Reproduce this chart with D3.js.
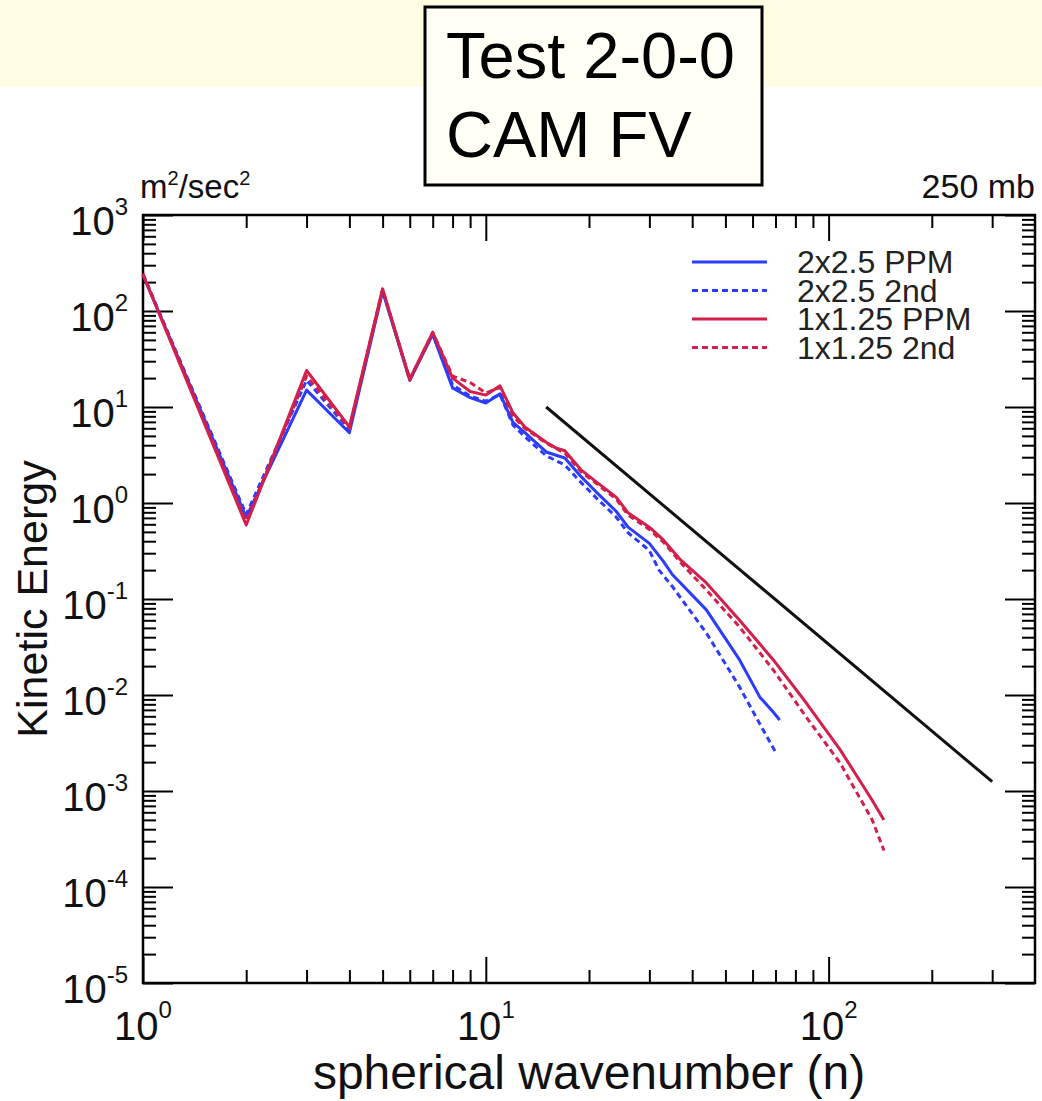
<!DOCTYPE html>
<html>
<head>
<meta charset="utf-8">
<script src="https://cdn.jsdelivr.net/npm/d3@7"></script>
<style>
  body { margin: 0; background: #fff; }
  svg { display: block; }
  text { font-family: "Liberation Sans", Arial, Helvetica, sans-serif; }
</style>
</head>
<body>
<svg id="chart" width="1042" height="1101"></svg>
<script>
// Kinetic energy spectra at 250 mb, CAM finite-volume core, test case 2-0-0

// 2x2.5 degree runs
const n2xPPM  = [1, 2, 3, 4, 5, 6, 7, 8, 9, 10, 11, 12, 13, 15, 17, 19, 21, 24, 26, 30, 33, 35, 44, 55, 63, 69, 72];
const ke2xPPM = [237, 0.71, 15, 5.4, 160, 19, 57, 15.8, 12.5, 11, 13.7, 6.9, 5.4, 3.4, 2.94, 1.87, 1.30, 0.82, 0.56, 0.38, 0.245, 0.18, 0.077, 0.0232, 0.0095, 0.0066, 0.0055];

const n2x2nd  = [1, 2, 3, 4, 5, 6, 7, 8, 9, 10, 11, 12, 13, 15, 17, 19, 21, 24, 26, 30, 32, 35, 44, 55, 63, 70];
const ke2x2nd = [240, 0.76, 19, 5.8, 165, 19.5, 58, 17, 13, 11.5, 13.5, 6.5, 4.9, 3.1, 2.49, 1.62, 1.13, 0.715, 0.49, 0.32, 0.2, 0.135, 0.0442, 0.0121, 0.005, 0.00255];

// 1x1.25 degree runs
const n1xPPM  = [1, 2, 3, 4, 5, 6, 7, 8, 9, 10, 11, 12, 13, 15, 16, 17, 19, 21, 24, 26, 30, 33, 37, 44, 55, 69, 86, 108, 134, 145];
const ke1xPPM = [240, 0.59, 24, 6.2, 170, 19.5, 60, 20, 14.5, 13.3, 16.6, 8.7, 6.2, 4.3, 3.75, 3.5, 2.2, 1.66, 1.15, 0.79, 0.56, 0.41, 0.255, 0.147, 0.06, 0.0232, 0.0083, 0.0027, 0.0008, 0.0005];

const n1x2nd  = [1, 2, 3, 4, 5, 6, 7, 8, 9, 10, 11, 12, 13, 15, 17, 19, 21, 24, 26, 30, 33, 37, 44, 55, 69, 86, 108, 134, 145];
const ke1x2nd = [245, 0.65, 21, 6.0, 168, 19, 60, 21, 18, 14, 16, 8.0, 6.0, 4.2, 3.3, 2.1, 1.6, 1.1, 0.75, 0.53, 0.39, 0.24, 0.124, 0.051, 0.0182, 0.0059, 0.00196, 0.0005, 0.00024];

// n^-3 reference slope
const refN  = [15, 300];
const refKE = [10, 0.00125];

const seriesNames = ["2x2.5 PPM", "2x2.5 2nd", "1x1.25 PPM", "1x1.25 2nd"];

// axis tick decades
const xExponents = [0, 1, 2];
const yExponents = [-5, -4, -3, -2, -1, 0, 1, 2, 3];

const headerLines = ["Test 2-0-0", "CAM FV"];
const xTitle = "spherical wavenumber (n)";
const yTitle = "Kinetic Energy";
const levelLabel = "250 mb";

const BLUE = "#2b3cff";
const RED = "#d21f4b";

const svg = d3.select("#chart");

// header band and title box
svg.append("rect").attr("x", 0).attr("y", 0).attr("width", 1042).attr("height", 87).attr("fill", "#fffde1");
svg.append("rect").attr("x", 425).attr("y", 7).attr("width", 337).attr("height", 178)
  .attr("fill", "#fffff5").attr("stroke", "#000").attr("stroke-width", 3);
headerLines.forEach((t, i) => {
  svg.append("text").attr("x", 446).attr("y", 78 + i * 79)
    .attr("font-size", 65).attr("fill", "#000").text(t);
});

// plot area
const L = 143, R = 1035, T = 215, B = 983;
const x = d3.scaleLog().domain([1, 400]).range([L, R]);
const y = d3.scaleLog().domain([1e-5, 1e3]).range([B, T]);

const xMajor = xExponents.map(e => Math.pow(10, e));
const xMinor = [];
[1, 10].forEach(d => { for (let k = 2; k <= 9; k++) xMinor.push(k * d); });
xMinor.push(200, 300);
const yMajor = yExponents.map(e => Math.pow(10, e));
const yMinor = [];
yExponents.slice(0, -1).forEach(e => { for (let k = 2; k <= 9; k++) yMinor.push(k * Math.pow(10, e)); });

function ticks(axis, values, size, tx, ty) {
  svg.append("g").attr("transform", `translate(${tx},${ty})`)
    .call(axis.tickValues(values).tickSize(size).tickSizeOuter(0).tickFormat(""))
    .call(g => g.select(".domain").remove())
    .call(g => g.selectAll("line").attr("stroke", "#000").attr("stroke-width", 2));
}
ticks(d3.axisBottom(x), xMinor, -13, 0, B);
ticks(d3.axisBottom(x), xMajor, -26, 0, B);
ticks(d3.axisTop(x), xMinor, -13, 0, T);
ticks(d3.axisTop(x), xMajor, -26, 0, T);
ticks(d3.axisLeft(y), yMinor, -13, L, 0);
ticks(d3.axisLeft(y), yMajor, -30, L, 0);
ticks(d3.axisRight(y), yMinor, -13, R, 0);
ticks(d3.axisRight(y), yMajor, -30, R, 0);

svg.append("rect").attr("x", L).attr("y", T).attr("width", R - L).attr("height", B - T)
  .attr("fill", "none").attr("stroke", "#000").attr("stroke-width", 2.5);

// tick labels as 10 with a raised exponent
yExponents.forEach(e => {
  const t = svg.append("text").attr("x", 128).attr("y", y(Math.pow(10, e)) + 20)
    .attr("text-anchor", "end").attr("font-size", 40).attr("fill", "#111");
  t.append("tspan").text("10");
  t.append("tspan").attr("dy", -20).attr("font-size", 24).text(String(e));
});
xExponents.forEach(e => {
  const t = svg.append("text").attr("x", x(Math.pow(10, e))).attr("y", 1040)
    .attr("text-anchor", "middle").attr("font-size", 40).attr("fill", "#111");
  t.append("tspan").text("10");
  t.append("tspan").attr("dy", -22).attr("font-size", 24).text(String(e));
});

// axis titles
svg.append("text").attr("x", (L + R) / 2).attr("y", 1089).attr("text-anchor", "middle")
  .attr("font-size", 48).attr("fill", "#111").text(xTitle);
svg.append("text").attr("transform", `translate(47,${(T + B) / 2}) rotate(-90)`)
  .attr("text-anchor", "middle").attr("font-size", 43).attr("fill", "#111").text(yTitle);

// units and level
const units = svg.append("text").attr("x", 140).attr("y", 198).attr("font-size", 33).attr("fill", "#111");
units.append("tspan").text("m");
units.append("tspan").attr("dy", -13).attr("font-size", 20).text("2");
units.append("tspan").attr("dy", 13).text("/sec");
units.append("tspan").attr("dy", -13).attr("font-size", 20).text("2");
svg.append("text").attr("x", 1035).attr("y", 198).attr("text-anchor", "end")
  .attr("font-size", 34).attr("fill", "#111").text(levelLabel);

// spectra
const line = d3.line().x(d => x(d[0])).y(d => y(d[1]));
const zip = (a, b) => a.map((v, i) => [v, b[i]]);
const series = [
  { pts: zip(n2x2nd, ke2x2nd), color: BLUE, dash: "6,4" },
  { pts: zip(n2xPPM, ke2xPPM), color: BLUE, dash: null },
  { pts: zip(n1x2nd, ke1x2nd), color: RED, dash: "6,4" },
  { pts: zip(n1xPPM, ke1xPPM), color: RED, dash: null }
];
series.forEach(s => {
  svg.append("path").datum(s.pts).attr("d", line)
    .attr("fill", "none").attr("stroke", s.color).attr("stroke-width", 3)
    .attr("stroke-linejoin", "round")
    .attr("stroke-dasharray", s.dash);
});
svg.append("path").datum(zip(refN, refKE)).attr("d", line)
  .attr("fill", "none").attr("stroke", "#111").attr("stroke-width", 3);

// legend (rows sit tight, as in the original layout)
const legendStyle = [
  { color: BLUE, dash: null },
  { color: BLUE, dash: "6,4" },
  { color: RED, dash: null },
  { color: RED, dash: "6,4" }
];
seriesNames.forEach((name, i) => {
  const ly = 262 + i * 28.5;
  svg.append("line").attr("x1", 692).attr("x2", 767).attr("y1", ly).attr("y2", ly)
    .attr("stroke", legendStyle[i].color).attr("stroke-width", 3)
    .attr("stroke-dasharray", legendStyle[i].dash);
  svg.append("text").attr("x", 797).attr("y", ly + 11).attr("font-size", 32)
    .attr("fill", "#222").text(name);
});
</script>
</body>
</html>
